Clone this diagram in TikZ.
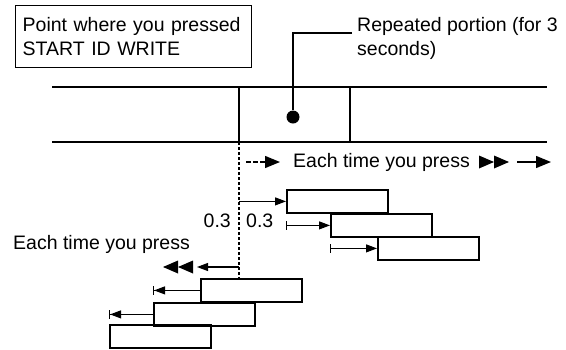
\documentclass[tikz,border=0pt]{standalone}
\usepackage{fontspec}
\setmainfont{Liberation Sans}
\usetikzlibrary{arrows.meta}

\begin{document}
\begin{tikzpicture}[
    x=1pt, y=-1pt,
    every node/.style={font=\fontsize{19.5}{24}\selectfont},
    txt/.style={inner sep=0pt, anchor=base west},
    seg/.style={rectangle, draw, line width=1.8pt, minimum width=101pt, minimum height=23pt, anchor=north west, inner sep=0pt},
    track/.style={line width=2pt},
    arrow/.style={-{Triangle[length=11pt, width=8pt]}, line width=1.1pt},
    bigarrow/.style={-{Triangle[length=15pt, width=12pt]}, line width=1.4pt},
    bararrow/.style={{Bar[width=9pt]}-{Triangle[length=11pt, width=8pt]}, line width=1.1pt},
    revbararrow/.style={-{Triangle[length=11pt, width=8pt, sep=0pt]Bar[width=9pt]}, line width=1.1pt},
]
    \useasboundingbox (0,0) rectangle (566,349);

    % labels at the top
    \node[draw, line width=1.4pt, anchor=north west, minimum width=236pt, minimum height=62pt, text width=222pt, inner xsep=7pt, align=left] (pressbox) at (15,5) {Point where you pressed\\START ID WRITE};
    \node[inner sep=0pt, anchor=north west, align=left] (replbl) at (357,17) {Repeated portion (for 3\\seconds)};

    % the track
    \draw[track] (52,87) -- (547,87);
    \draw[track] (52,142) -- (547,142);
    \draw[track] (239,87) -- (239,142);
    \draw[track] (350,87) -- (350,142);

    \coordinate (lead) at (352,33);
    \node[circle, fill, inner sep=0pt, minimum size=13pt] (dot) at (293,117) {};
    \draw[line width=1.6pt] (lead) -| (dot);

    % forward
    \coordinate (cuttop) at (239,142);
    \coordinate (fwdA) at (246,162);
    \coordinate (fwdB) at (280,162);
    \coordinate (fwdC) at (517,162);
    \coordinate (fwdD) at (551,162);
    \draw[bigarrow, dashed, dash pattern=on 5pt off 2pt] (fwdA) -- (fwdB);
    \node[txt] (fwdlbl) at (293,167) {Each time you press};
    \foreach \x in {479,494}
        \fill (\x,155.5) -- ++(15,6.5) -- ++(-15,6.5) -- cycle;
    \draw[bigarrow] (fwdC) -- (fwdD);

    \node[seg] (r1) at (286,189) {};
    \node[seg] (r2) at (330,213) {};
    \node[seg] (r3) at (377,236) {};

    \draw[arrow] (cuttop |- r1.west) -- (r1.west);
    \draw[bararrow] (r1.west |- r2.west) -- (r2.west);
    \draw[bararrow] (r2.west |- r3.west) -- (r3.west);

    \node[txt, anchor=base east] (lft) at (231,227) {0.3};
    \node[txt] (rgt) at (246,227) {0.3};

    % reverse
    \node[seg] (l1) at (200,278) {};
    \node[seg] (l2) at (153,302) {};
    \node[seg] (l3) at (109,324) {};

    \draw[dashed, dash pattern=on 3pt off 2pt, line width=1.3pt] (cuttop) -- (cuttop |- l1.north);

    \node[txt] (revlbl) at (13,249) {Each time you press};
    \coordinate (revA) at (239,267);
    \coordinate (revB) at (197,267);
    \draw[arrow] (revA) -- (revB);
    \foreach \x in {193,178}
        \fill (\x,260.5) -- ++(-15,6.5) -- ++(15,6.5) -- cycle;

    \draw[revbararrow] (l1.west) -- (l1.west -| l2.west);
    \draw[revbararrow] (l2.west) -- (l2.west -| l3.west);
\end{tikzpicture}
\end{document}
